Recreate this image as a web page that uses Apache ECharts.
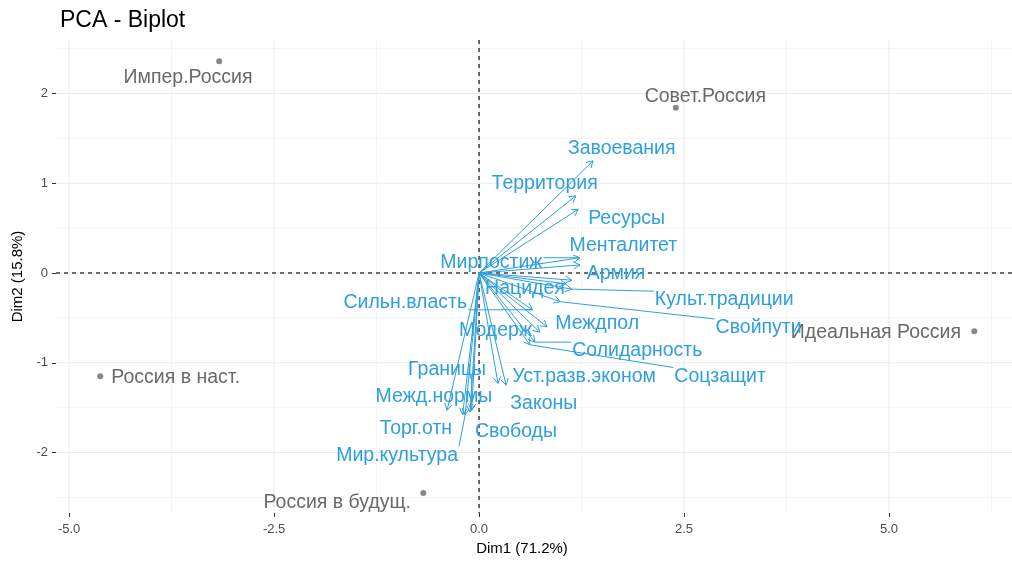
<!DOCTYPE html>
<html><head><meta charset="utf-8">
<script src="https://cdn.jsdelivr.net/npm/echarts@6/dist/echarts.min.js"></script>
<style>html,body{margin:0;padding:0;background:#fff}#c{width:1012px;height:565px}</style>
</head><body><div id="c"></div>
<script>
// ---- data ----
const indNames = ['Импер.Россия','Совет.Россия','Идеальная Россия','Россия в наст.','Россия в будущ.'];
const indX = [-3.17, 2.40, 6.04, -4.62, -0.68];
const indY = [2.36, 1.84, -0.65, -1.15, -2.45];
const indLabelX = [-3.55, 2.76, 4.84, -3.70, -1.73];
const indLabelY = [2.18, 1.97, -0.66, -1.17, -2.56];

const varNames = ['Завоевания','Территория','Ресурсы','Менталитет','Мирпостиж','Армия','Нацидея',
  'Культ.традиции','Сильн.власть','Свойпути','Междпол','Модерж','Солидарность','Границы',
  'Уст.разв.эконом','Соцзащит','Межд.нормы','Законы','Торг.отн','Свободы','Мир.культура'];
const varX = [1.39, 1.18, 1.21, 1.23, 1.23, 1.13, 1.06, 1.13, 0.65, 0.99, 0.83, 0.74, 0.68, -0.09,
  0.23, 0.62, -0.39, 0.33, -0.20, -0.11, -0.17];
const varY = [1.25, 0.86, 0.71, 0.09, 0.17, -0.08, -0.12, -0.18, -0.41, -0.32, -0.60, -0.66, -0.77, -1.53,
  -1.23, -0.80, -1.53, -1.25, -1.58, -1.55, -1.58];
const varLabelX = [1.74, 0.80, 1.80, 1.76, 0.15, 1.67, 0.56, 2.99, -0.90, 3.41, 1.44, 0.20, 1.93, -0.39,
  1.28, 2.94, -0.55, 0.79, -0.77, 0.45, -1.00];
const varLabelY = [1.39, 1.00, 0.61, 0.31, 0.12, -0.01, -0.17, -0.30, -0.33, -0.61, -0.56, -0.64, -0.86, -1.08,
  -1.15, -1.15, -1.38, -1.46, -1.73, -1.77, -2.03];

const xTicks = [-5, -2.5, 0, 2.5, 5];
const xMinor = [-3.75, -1.25, 1.25, 3.75, 6.25];
const yTicks = [-2, -1, 0, 1, 2];
const yMinor = [-2.5, -1.5, -0.5, 0.5, 1.5, 2.5];

// ---- style ----
const BLUE = '#2E9FDF';
const GRAY = '#696969';
const FONT = '"Liberation Sans", Arial, sans-serif';
const LFS = 19.5;

const mctx = document.createElement('canvas').getContext('2d');
mctx.font = LFS + 'px ' + FONT;
function tw(s){ return mctx.measureText(s).width; }
function clamp(v,a,b){ return Math.max(a, Math.min(b, v)); }

const chart = echarts.init(document.getElementById('c'), null, {renderer:'canvas'});

function renderGrid(params, api){
  const cs = params.coordSys;
  const ch = [];
  const vline = (v, w, col, dash) => {
    const p = api.coord([v, 0]);
    ch.push({type:'line', shape:{x1:p[0], y1:cs.y, x2:p[0], y2:cs.y+cs.height},
      style:{stroke:col, lineWidth:w, lineDash:dash||null}});
  };
  const hline = (v, w, col, dash) => {
    const p = api.coord([0, v]);
    ch.push({type:'line', shape:{x1:cs.x, y1:p[1], x2:cs.x+cs.width, y2:p[1]},
      style:{stroke:col, lineWidth:w, lineDash:dash||null}});
  };
  xMinor.forEach(v => vline(v, 0.6, '#EEEEEE'));
  yMinor.forEach(v => hline(v, 0.6, '#EEEEEE'));
  xTicks.forEach(v => vline(v, 1.1, '#EBEBEB'));
  yTicks.forEach(v => hline(v, 1.1, '#EBEBEB'));
  vline(0, 1.1, '#000', [4,4]);
  hline(0, 1.1, '#000', [4,4]);
  return {type:'group', children:ch};
}

function renderIndLabel(params, api){
  const i = params.dataIndex;
  const c = api.coord([api.value(0), api.value(1)]);
  return {type:'text', x:c[0], y:c[1], style:{text:indNames[i], fill:GRAY, font:LFS+'px '+FONT,
    align:'center', verticalAlign:'middle'}};
}

function renderVar(params, api){
  const i = params.dataIndex;
  const o = api.coord([0,0]);
  const t = api.coord([api.value(0), api.value(1)]);
  const c = api.coord([api.value(2), api.value(3)]);
  const ang = Math.atan2(t[1]-o[1], t[0]-o[0]);
  const L = 7.5, a = Math.PI/6;
  const h1 = [t[0]-L*Math.cos(ang-a), t[1]-L*Math.sin(ang-a)];
  const h2 = [t[0]-L*Math.cos(ang+a), t[1]-L*Math.sin(ang+a)];
  const ch = [
    {type:'line', shape:{x1:o[0],y1:o[1],x2:t[0],y2:t[1]}, style:{stroke:BLUE, lineWidth:1}},
    {type:'polyline', shape:{points:[h1,t,h2]}, style:{stroke:BLUE, lineWidth:1, fill:'none'}}
  ];
  const w = tw(varNames[i]);
  const bx0 = c[0]-w/2-1, bx1 = c[0]+w/2+1, by0 = c[1]-LFS/2+1, by1 = c[1]+LFS/2-1;
  const nx = clamp(t[0], bx0, bx1), ny = clamp(t[1], by0, by1);
  const d = Math.hypot(nx-t[0], ny-t[1]);
  if (d > 18) ch.push({type:'line', shape:{x1:t[0],y1:t[1],x2:nx,y2:ny}, style:{stroke:BLUE, lineWidth:1}});
  ch.push({type:'text', x:c[0], y:c[1], style:{text:varNames[i], fill:BLUE, font:LFS+'px '+FONT,
    align:'center', verticalAlign:'middle'}});
  return {type:'group', children:ch};
}

const axisLabelStyle = {color:'#4D4D4D', fontSize:13, fontFamily:FONT};

chart.setOption({
  animation:false,
  backgroundColor:'#fff',
  title:{text:'PCA - Biplot', left:55, top:4, textStyle:{fontSize:23, fontWeight:'normal', color:'#000', fontFamily:FONT}},
  grid:{left:56, right:0, top:40, bottom:52},
  xAxis:{type:'value', min:-5.16, max:6.5, position:'bottom',
    name:'Dim1 (71.2%)', nameLocation:'middle', nameGap:28,
    nameTextStyle:{fontSize:15, color:'#000', fontFamily:FONT, padding:[0,24,0,0]},
    axisLine:{show:false, onZero:false},
    axisTick:{show:true, length:4, customValues:xTicks, lineStyle:{color:'#333', width:1}},
    axisLabel:{customValues:xTicks, formatter:v => Number(v).toFixed(1), margin:10, ...axisLabelStyle},
    splitLine:{show:false}},
  yAxis:{type:'value', min:-2.674, max:2.596, position:'left',
    name:'Dim2 (15.8%)', nameLocation:'middle', nameGap:30,
    nameTextStyle:{fontSize:15, color:'#000', fontFamily:FONT},
    axisLine:{show:false, onZero:false},
    axisTick:{show:true, length:4, customValues:yTicks, lineStyle:{color:'#333', width:1}},
    axisLabel:{customValues:yTicks, formatter:v => String(v), margin:8, ...axisLabelStyle},
    splitLine:{show:false}},
  series:[
    {type:'custom', renderItem:renderGrid, data:[[0,0]], silent:true, z:1},
    {type:'scatter', data:indX.map((x,i)=>[x, indY[i]]), symbolSize:6, itemStyle:{color:GRAY}, z:3},
    {type:'custom', renderItem:renderIndLabel, data:indLabelX.map((x,i)=>[x, indLabelY[i]]), z:3},
    {type:'custom', renderItem:renderVar, data:varX.map((x,i)=>[x, varY[i], varLabelX[i], varLabelY[i]]), z:4}
  ]
});
</script></body></html>
